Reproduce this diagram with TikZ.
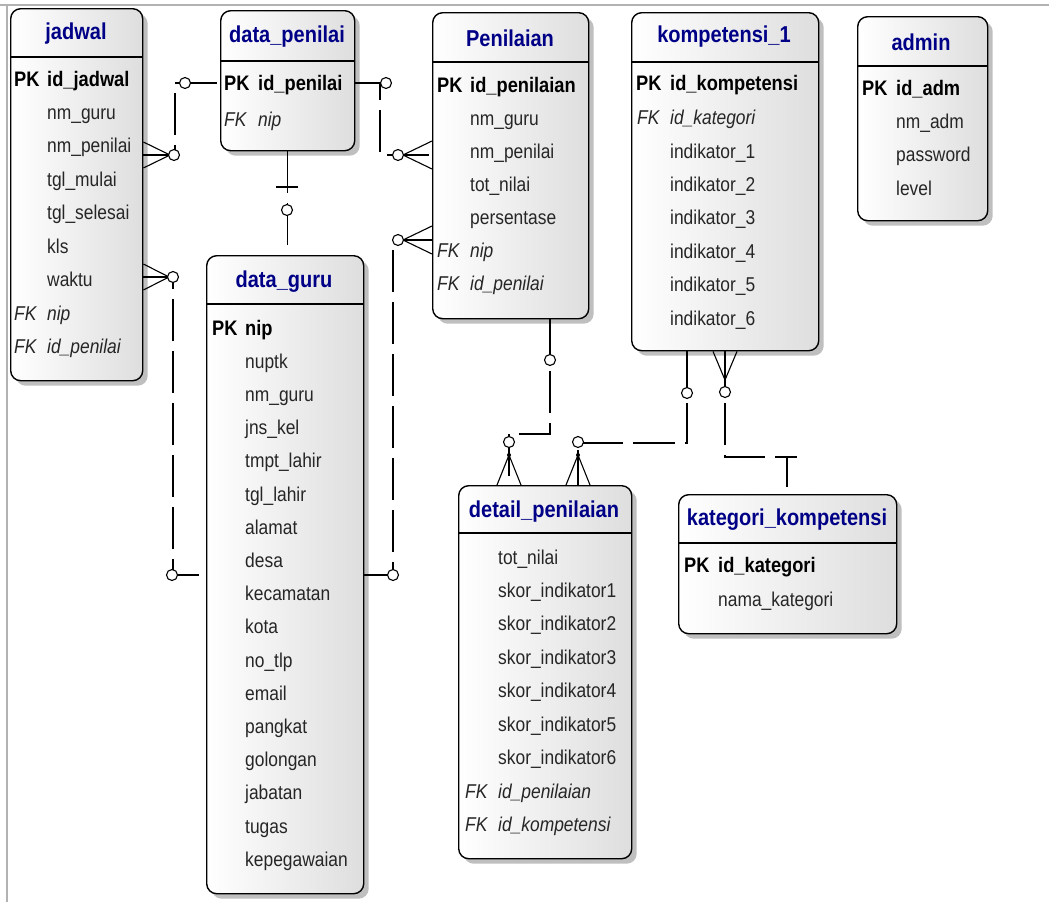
\documentclass[tikz,border=0pt]{standalone}
\usepackage{fontspec}
\setmainfont{Liberation Sans}[FakeStretch=0.87]
\usepackage{tikz}
\usepackage{xcolor}
\usetikzlibrary{shadows}
\definecolor{biru}{RGB}{0,0,135}

\begin{document}
\begin{tikzpicture}[x=1pt,y=-1pt,
    tabel/.style={draw,line width=1.4pt,rounded corners=10pt,left color=white,right color=black!13,
        drop shadow={shadow xshift=5pt,shadow yshift=-5pt,fill=black!25,opacity=1},
        anchor=north west,inner sep=0pt},
    judul/.style={font=\fontsize{23}{25}\selectfont\bfseries,text=biru,inner sep=0pt},
    teks/.style={anchor=west,inner sep=0pt,text height=14pt,text depth=4pt},
    pk/.style={teks,font=\fontsize{21}{23}\selectfont\bfseries},
    fk/.style={teks,font=\fontsize{20}{22}\selectfont\itshape,text=black!85},
    atr/.style={teks,font=\fontsize{20}{22}\selectfont,text=black!85},
    garis/.style={line width=1.4pt},
    relasi/.style={line width=1.1pt,dash pattern=on 42pt off 10pt},
    kaki/.style={line width=1.1pt},
    bulat/.style={circle,draw,fill=white,inner sep=0pt,minimum size=11pt,line width=1.1pt}]
\useasboundingbox (0,0) rectangle (1049,902);
\draw[black!30,line width=1.5pt] (0,5) -- (1049,5);
\draw[black!30,line width=1.5pt] (7,5) -- (7,902);

% jadwal
\node[tabel,minimum width=132pt,minimum height=372pt] (jadwal) at (10,8) {};
\draw[garis] (jadwal.west |- 0,57) -- (jadwal.east |- 0,57);
\node[judul] (jadwal-j) at (76,34) {jadwal};
\node[pk] (jadwal-pk) at (14,81) {PK};
\node[pk] (jadwal-1) at (47,81) {id\_jadwal};
\foreach \nama [count=\i from 2] in {nm\_guru,nm\_penilai,tgl\_mulai,tgl\_selesai,kls,waktu}
    \node[atr] (jadwal-\i) at (47,{81+33.4*(\i-1)}) {\nama};
\foreach \nama/\y [count=\i] in {nip/315,id\_penilai/348} {
    \node[fk] (jadwal-fk\i) at (14,\y) {FK};
    \node[fk] (jadwal-f\i) at (47,\y) {\nama};
}

% data_penilai
\node[tabel,minimum width=134pt,minimum height=140pt] (datapenilai) at (220,10) {};
\draw[garis] (datapenilai.west |- 0,61) -- (datapenilai.east |- 0,61);
\node[judul] (datapenilai-j) at (287,37) {data\_penilai};
\node[pk] (datapenilai-pk) at (224,85) {PK};
\node[pk] (datapenilai-1) at (258,85) {id\_penilai};
\node[fk] (datapenilai-fk1) at (224,121) {FK};
\node[fk] (datapenilai-f1) at (258,121) {nip};

% Penilaian
\node[tabel,minimum width=156pt,minimum height=306pt] (penilaian) at (432,12) {};
\draw[garis] (penilaian.west |- 0,62) -- (penilaian.east |- 0,62);
\node[judul] (penilaian-j) at (510,38) {Penilaian};
\node[pk] (penilaian-pk) at (437,87) {PK};
\node[pk] (penilaian-1) at (470,87) {id\_penilaian};
\foreach \nama [count=\i from 2] in {nm\_guru,nm\_penilai,tot\_nilai,persentase}
    \node[atr] (penilaian-\i) at (470,{87+33*(\i-1)}) {\nama};
\foreach \nama/\y [count=\i] in {nip/252,id\_penilai/285} {
    \node[fk] (penilaian-fk\i) at (437,\y) {FK};
    \node[fk] (penilaian-f\i) at (470,\y) {\nama};
}

% kompetensi_1
\node[tabel,minimum width=187pt,minimum height=338pt] (kompetensi) at (631,12) {};
\draw[garis] (kompetensi.west |- 0,62) -- (kompetensi.east |- 0,62);
\node[judul] (kompetensi-j) at (724,37) {kompetensi\_1};
\node[pk] (kompetensi-pk) at (636,85) {PK};
\node[pk] (kompetensi-1) at (670,85) {id\_kompetensi};
\node[fk] (kompetensi-fk1) at (637,119) {FK};
\node[fk] (kompetensi-f1) at (670,119) {id\_kategori};
\foreach \i in {1,...,6}
    \node[atr] (kompetensi-i\i) at (670,{153+33.4*(\i-1)}) {indikator\_\i};

% admin
\node[tabel,minimum width=130pt,minimum height=204pt] (admin) at (857,16) {};
\draw[garis] (admin.west |- 0,66) -- (admin.east |- 0,66);
\node[judul] (admin-j) at (921,42) {admin};
\node[pk] (admin-pk) at (862,90) {PK};
\node[pk] (admin-1) at (896,90) {id\_adm};
\foreach \nama [count=\i from 2] in {nm\_adm,password,level}
    \node[atr] (admin-\i) at (896,{90+33.4*(\i-1)}) {\nama};

% data_guru
\node[tabel,minimum width=157pt,minimum height=638pt] (dataguru) at (206,255) {};
\draw[garis] (dataguru.west |- 0,304) -- (dataguru.east |- 0,304);
\node[judul] (dataguru-j) at (284,282) {data\_guru};
\node[pk] (dataguru-pk) at (212,330) {PK};
\node[pk] (dataguru-1) at (245,330) {nip};
\foreach \nama [count=\i from 2] in {nuptk,nm\_guru,jns\_kel,tmpt\_lahir,tgl\_lahir,alamat,desa,
        kecamatan,kota,no\_tlp,email,pangkat,golongan,jabatan,tugas,kepegawaian}
    \node[atr] (dataguru-\i) at (245,{330+33.2*(\i-1)}) {\nama};

% detail_penilaian
\node[tabel,minimum width=173pt,minimum height=373pt] (detail) at (458,485) {};
\draw[garis] (detail.west |- 0,533) -- (detail.east |- 0,533);
\node[judul] (detail-j) at (544,512) {detail\_penilaian};
\node[atr] (detail-1) at (498,559) {tot\_nilai};
\foreach \i in {1,...,6}
    \node[atr] (detail-s\i) at (498,{559+33.4*\i}) {skor\_indikator\i};
\foreach \nama/\y [count=\i] in {id\_penilaian/793,id\_kompetensi/826} {
    \node[fk] (detail-fk\i) at (465,\y) {FK};
    \node[fk] (detail-f\i) at (498,\y) {\nama};
}

% kategori_kompetensi
\node[tabel,minimum width=218pt,minimum height=139pt] (kategori) at (678,494) {};
\draw[garis] (kategori.west |- 0,543) -- (kategori.east |- 0,543);
\node[judul] (kategori-j) at (787,520) {kategori\_kompetensi};
\node[pk] (kategori-pk) at (684,567) {PK};
\node[pk] (kategori-1) at (718,567) {id\_kategori};
\node[atr] (kategori-2) at (718,601) {nama\_kategori};

% relasi
\draw[relasi] (jadwal.east |- 0,155) -- (175,155) -- (175,83) -- (datapenilai.west |- 0,83);
\draw[kaki] (jadwal.east |- 0,142) -- (170,155) -- (jadwal.east |- 0,168);
\node[bulat] (o1) at (174,155) {};
\node[bulat] (o2) at (185,83) {};

\draw[relasi] (jadwal.east |- 0,277) -- (173,277) -- (173,575) -- (dataguru.west |- 0,575);
\draw[kaki] (jadwal.east |- 0,264) -- (169,277) -- (jadwal.east |- 0,290);
\node[bulat] (o3) at (173,277) {};
\node[bulat] (o4) at (172,575) {};

\draw[relasi] (datapenilai.south) -- (datapenilai.south |- dataguru.north);
\draw[kaki] (276,187) -- (298,187);
\node[bulat] (o5) at (287,210) {};

\draw[relasi] (datapenilai.east |- 0,83) -- (380,83) -- (380,155) -- (penilaian.west |- 0,155);
\draw[kaki] (penilaian.west |- 0,141) -- (403,155) -- (penilaian.west |- 0,169);
\node[bulat] (o6) at (386,83) {};
\node[bulat] (o7) at (398,155) {};

\draw[relasi] (dataguru.east |- 0,575) -- (393,575) -- (393,240) -- (penilaian.west |- 0,240);
\draw[kaki] (penilaian.west |- 0,226) -- (403,240) -- (penilaian.west |- 0,254);
\node[bulat] (o8) at (393,575) {};
\node[bulat] (o9) at (398,240) {};

\draw[relasi] (penilaian.south -| 550,0) -- (550,434) -- (509,434) -- (detail.north -| 509,0);
\draw[kaki] (detail.north -| 497,0) -- (509,455) -- (detail.north -| 521,0);
\fill (509,455) circle (2pt);
\node[bulat] (o10) at (550,360) {};
\node[bulat] (o11) at (509,442) {};

\draw[relasi] (kompetensi.south -| 687,0) -- (687,443) -- (578,443) -- (detail.north -| 578,0);
\draw[kaki] (detail.north -| 566,0) -- (578,455) -- (detail.north -| 590,0);
\fill (578,455) circle (2pt);
\node[bulat] (o12) at (687,393) {};
\node[bulat] (o13) at (578,442) {};

\draw[relasi] (kompetensi.south -| 725,0) -- (725,457) -- (787,457) -- (kategori.north -| 787,0);
\draw[kaki] (kompetensi.south -| 713,0) -- (725,380) -- (kompetensi.south -| 737,0);
\draw[line width=2pt] (775,457) -- (797,457);
\node[bulat] (o14) at (725,392) {};
\end{tikzpicture}
\end{document}
